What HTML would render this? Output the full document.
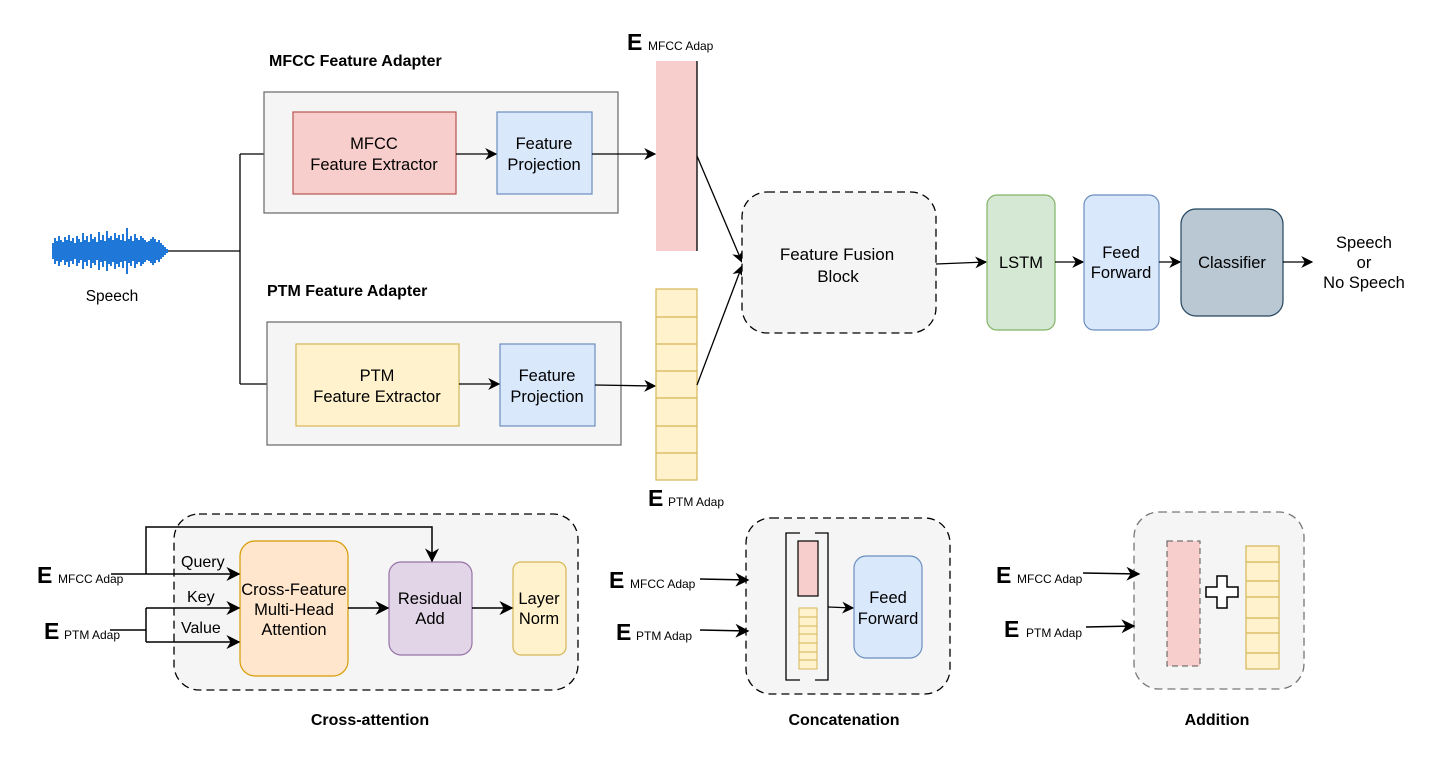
<!DOCTYPE html>
<html><head><meta charset="utf-8"><style>
html,body{margin:0;padding:0;background:#fff;}
svg{display:block;}
text{font-family:"Liberation Sans",Arial,sans-serif;fill:#000;}
</style></head><body>
<svg width="1448" height="762" viewBox="0 0 1448 762" xmlns="http://www.w3.org/2000/svg">
<defs>
<marker id="a" viewBox="0 0 10 10" refX="9" refY="5" markerWidth="12" markerHeight="12" orient="auto" markerUnits="userSpaceOnUse">
<path d="M0,0 L10,5 L0,10 L3,5 Z" fill="#000"/></marker>
<marker id="b" viewBox="0 0 10 10" refX="9" refY="5" markerWidth="14" markerHeight="14" orient="auto" markerUnits="userSpaceOnUse">
<path d="M0,0 L10,5 L0,10 L3,5 Z" fill="#000"/></marker>
</defs>

<!-- waveform -->
<g stroke="#1f77d8" stroke-width="2">
<path d="M53,243v16 M55,238v26 M57,241v20 M59,236v30 M61,240v22 M63,242v18 M65,237v28 M67,240v22 M69,235v32 M71,241v20 M73,238v26 M75,243v16 M77,236v30 M79,239v24 M81,242v18 M83,233v36 M85,240v22 M87,236v30 M89,242v18 M91,234v34 M93,239v24 M95,237v28 M97,242v18 M99,232v38 M101,240v22 M103,235v32 M105,241v20 M107,231v40 M109,238v26 M111,236v30 M113,240v22 M115,233v36 M117,238v26 M119,235v32 M121,240v22 M123,234v34 M125,241v20 M127,228v46 M129,239v24 M131,236v30 M133,241v20 M135,234v34 M137,238v26 M139,240v22 M141,236v30 M143,238v26 M145,240v22 M147,242v18 M149,241v20 M151,239v24 M153,237v28 M155,239v24 M157,242v18 M159,240v22 M161,243v16 M163,245v12 M165,247v8 M167,249v4"/>
</g>
<line x1="168" y1="251" x2="240" y2="251" stroke="#000" stroke-width="1.3"/>
<text x="112" y="301" font-size="15.5" text-anchor="middle">Speech</text>
<path d="M240,154 V384" stroke="#000" stroke-width="1.3" fill="none"/>
<path d="M240,154 H292" stroke="#000" stroke-width="1.3" marker-end="url(#a)"/>
<path d="M240,384 H295" stroke="#000" stroke-width="1.3" marker-end="url(#a)"/>

<!-- MFCC adapter -->
<text x="269" y="66" font-size="16" font-weight="bold">MFCC Feature Adapter</text>
<rect x="264" y="92" width="354" height="121" fill="#f5f5f5" stroke="#666" stroke-width="1.2"/>
<rect x="293" y="112" width="163" height="82" fill="#f8cecc" stroke="#b85450" stroke-width="1.2"/>
<text x="374" y="149" font-size="16.5" text-anchor="middle">MFCC</text>
<text x="374" y="170" font-size="16.5" text-anchor="middle">Feature Extractor</text>
<rect x="497" y="112" width="95" height="82" fill="#dae8fc" stroke="#6c8ebf" stroke-width="1.2"/>
<text x="544" y="149" font-size="16.5" text-anchor="middle">Feature</text>
<text x="544" y="170" font-size="16.5" text-anchor="middle">Projection</text>
<path d="M456,154 H496" stroke="#000" stroke-width="1.3" marker-end="url(#a)"/>
<path d="M592,154 H655" stroke="#000" stroke-width="1.3" marker-end="url(#a)"/>

<!-- PTM adapter -->
<text x="267" y="296" font-size="16" font-weight="bold">PTM Feature Adapter</text>
<rect x="267" y="322" width="354" height="123" fill="#f5f5f5" stroke="#666" stroke-width="1.2"/>
<rect x="296" y="344" width="163" height="82" fill="#fff2cc" stroke="#d6b656" stroke-width="1.2"/>
<text x="377" y="381" font-size="16.5" text-anchor="middle">PTM</text>
<text x="377" y="402" font-size="16.5" text-anchor="middle">Feature Extractor</text>
<rect x="500" y="344" width="95" height="82" fill="#dae8fc" stroke="#6c8ebf" stroke-width="1.2"/>
<text x="547" y="381" font-size="16.5" text-anchor="middle">Feature</text>
<text x="547" y="402" font-size="16.5" text-anchor="middle">Projection</text>
<path d="M459,384 H499" stroke="#000" stroke-width="1.3" marker-end="url(#a)"/>
<path d="M595,385 L655,386" stroke="#000" stroke-width="1.3" marker-end="url(#a)"/>

<!-- embeddings -->
<text x="627" y="50" font-size="23" font-weight="bold">E</text>
<text x="648" y="50" font-size="12">MFCC Adap</text>
<rect x="656" y="61" width="41" height="190" fill="#f8cecc"/>
<line x1="697" y1="61" x2="697" y2="251" stroke="#000" stroke-width="1.3"/>
<rect x="656" y="289" width="41" height="191" fill="#fff2cc" stroke="#d6b656" stroke-width="1.2"/>
<path d="M656,317H697M656,344H697M656,371H697M656,398H697M656,426H697M656,453H697" stroke="#d6b656" stroke-width="1.2"/>
<text x="648" y="506" font-size="23" font-weight="bold">E</text>
<text x="668" y="506" font-size="12">PTM Adap</text>
<path d="M697,156 L742,262" stroke="#000" stroke-width="1.3" marker-end="url(#a)"/>
<path d="M697,385 L742,266" stroke="#000" stroke-width="1.3" marker-end="url(#a)"/>

<!-- fusion -->
<rect x="742" y="192" width="194" height="141" rx="25" fill="#f5f5f5" stroke="#000" stroke-width="1.3" stroke-dasharray="8,5"/>
<text x="837" y="260" font-size="17" text-anchor="middle">Feature Fusion</text>
<text x="838" y="282" font-size="17" text-anchor="middle">Block</text>
<path d="M936,264 L986,262" stroke="#000" stroke-width="1.3" marker-end="url(#a)"/>
<rect x="987" y="195" width="68" height="135" rx="10" fill="#d5e8d4" stroke="#82b366" stroke-width="1.2"/>
<text x="1021" y="268" font-size="16.5" text-anchor="middle">LSTM</text>
<path d="M1055,262 H1083" stroke="#000" stroke-width="1.3" marker-end="url(#a)"/>
<rect x="1084" y="195" width="75" height="135" rx="10" fill="#dae8fc" stroke="#6c8ebf" stroke-width="1.2"/>
<text x="1121" y="258" font-size="16.5" text-anchor="middle">Feed</text>
<text x="1121" y="278" font-size="16.5" text-anchor="middle">Forward</text>
<path d="M1159,262 H1180" stroke="#000" stroke-width="1.3" marker-end="url(#a)"/>
<rect x="1181" y="209" width="102" height="107" rx="15" fill="#bac8d3" stroke="#23445d" stroke-width="1.2"/>
<text x="1232" y="268" font-size="16.5" text-anchor="middle">Classifier</text>
<path d="M1283,262 H1312" stroke="#000" stroke-width="1.3" marker-end="url(#a)"/>
<text x="1364" y="248" font-size="16.5" text-anchor="middle">Speech</text>
<text x="1364" y="268" font-size="16.5" text-anchor="middle">or</text>
<text x="1364" y="288" font-size="16.5" text-anchor="middle">No Speech</text>

<!-- Cross-attention -->
<rect x="174" y="514" width="404" height="176" rx="25" fill="#f5f5f5" stroke="#000" stroke-width="1.3" stroke-dasharray="8,5"/>
<rect x="240" y="541" width="108" height="135" rx="15" fill="#ffe6cc" stroke="#d79b00" stroke-width="1.2"/>
<text x="294" y="595" font-size="16.5" text-anchor="middle">Cross-Feature</text>
<text x="294" y="615" font-size="16.5" text-anchor="middle">Multi-Head</text>
<text x="294" y="635" font-size="16.5" text-anchor="middle">Attention</text>
<rect x="389" y="562" width="83" height="93" rx="12" fill="#e1d5e7" stroke="#9673a6" stroke-width="1.2"/>
<text x="430" y="604" font-size="16.5" text-anchor="middle">Residual</text>
<text x="430" y="624" font-size="16.5" text-anchor="middle">Add</text>
<rect x="513" y="562" width="53" height="93" rx="8" fill="#fff2cc" stroke="#d6b656" stroke-width="1.2"/>
<text x="539" y="604" font-size="16.5" text-anchor="middle">Layer</text>
<text x="539" y="624" font-size="16.5" text-anchor="middle">Norm</text>
<text x="37" y="583" font-size="23" font-weight="bold">E</text>
<text x="58" y="583" font-size="12">MFCC Adap</text>
<text x="44" y="639" font-size="23" font-weight="bold">E</text>
<text x="64" y="639" font-size="12">PTM Adap</text>
<path d="M111,574 H239" stroke="#000" stroke-width="1.5" marker-end="url(#b)"/>
<path d="M146,574 V527 H432 V561" stroke="#000" stroke-width="1.5" fill="none" marker-end="url(#b)"/>
<path d="M110,630 H146 M146,608 V642" stroke="#000" stroke-width="1.5" fill="none"/>
<path d="M146,608 H239" stroke="#000" stroke-width="1.5" marker-end="url(#b)"/>
<path d="M146,642 H239" stroke="#000" stroke-width="1.5" marker-end="url(#b)"/>
<text x="181" y="567" font-size="16">Query</text>
<text x="187" y="602" font-size="16">Key</text>
<text x="181" y="633" font-size="16">Value</text>
<path d="M348,608 H388" stroke="#000" stroke-width="1.5" marker-end="url(#b)"/>
<path d="M472,608 H512" stroke="#000" stroke-width="1.5" marker-end="url(#b)"/>
<text x="370" y="725" font-size="16" font-weight="bold" text-anchor="middle">Cross-attention</text>

<!-- Concatenation -->
<rect x="746" y="518" width="204" height="176" rx="25" fill="#f5f5f5" stroke="#000" stroke-width="1.3" stroke-dasharray="8,5"/>
<path d="M800,533 H786 V680 H800 M815,533 H828 V680 H815" stroke="#000" stroke-width="1.3" fill="none"/>
<rect x="798" y="541" width="20" height="55" fill="#f8cecc" stroke="#000" stroke-width="1.2"/>
<rect x="799" y="608" width="18" height="61" fill="#fff2cc" stroke="#d6b656" stroke-width="1"/>
<path d="M799,617H817M799,626H817M799,634H817M799,643H817M799,652H817M799,660H817" stroke="#d6b656" stroke-width="1"/>
<path d="M828,607 L853,608" stroke="#000" stroke-width="1.3" marker-end="url(#a)"/>
<rect x="854" y="556" width="68" height="102" rx="12" fill="#dae8fc" stroke="#6c8ebf" stroke-width="1.2"/>
<text x="888" y="603" font-size="16.5" text-anchor="middle">Feed</text>
<text x="888" y="624" font-size="16.5" text-anchor="middle">Forward</text>
<text x="609" y="588" font-size="23" font-weight="bold">E</text>
<text x="630" y="588" font-size="12">MFCC Adap</text>
<text x="616" y="640" font-size="23" font-weight="bold">E</text>
<text x="636" y="640" font-size="12">PTM Adap</text>
<path d="M700,579 L748,580" stroke="#000" stroke-width="1.5" marker-end="url(#b)"/>
<path d="M700,630 L748,631" stroke="#000" stroke-width="1.5" marker-end="url(#b)"/>
<text x="844" y="725" font-size="16" font-weight="bold" text-anchor="middle">Concatenation</text>

<!-- Addition -->
<rect x="1134" y="512" width="170" height="177" rx="25" fill="#f5f5f5" stroke="#777" stroke-width="1.3" stroke-dasharray="8,5"/>
<rect x="1167" y="541" width="33" height="125" fill="#f8cecc" stroke="#555" stroke-width="1" stroke-dasharray="6,4"/>
<path d="M1217,576 h10 v11 h11 v10 h-11 v11 h-10 v-11 h-11 v-10 h11 z" fill="#fff" stroke="#000" stroke-width="1.5"/>
<rect x="1246" y="546" width="33" height="123" fill="#fff2cc" stroke="#d6b656" stroke-width="1.2"/>
<path d="M1246,562H1279M1246,581H1279M1246,597H1279M1246,618H1279M1246,633H1279M1246,653H1279" stroke="#d6b656" stroke-width="1.2"/>
<text x="996" y="583" font-size="23" font-weight="bold">E</text>
<text x="1017" y="583" font-size="12">MFCC Adap</text>
<text x="1004" y="637" font-size="23" font-weight="bold">E</text>
<text x="1026" y="637" font-size="12">PTM Adap</text>
<path d="M1083,573 L1139,574" stroke="#000" stroke-width="1.5" marker-end="url(#b)"/>
<path d="M1086,627 L1134,626" stroke="#000" stroke-width="1.5" marker-end="url(#b)"/>
<text x="1217" y="725" font-size="16" font-weight="bold" text-anchor="middle">Addition</text>
</svg>
</body></html>
